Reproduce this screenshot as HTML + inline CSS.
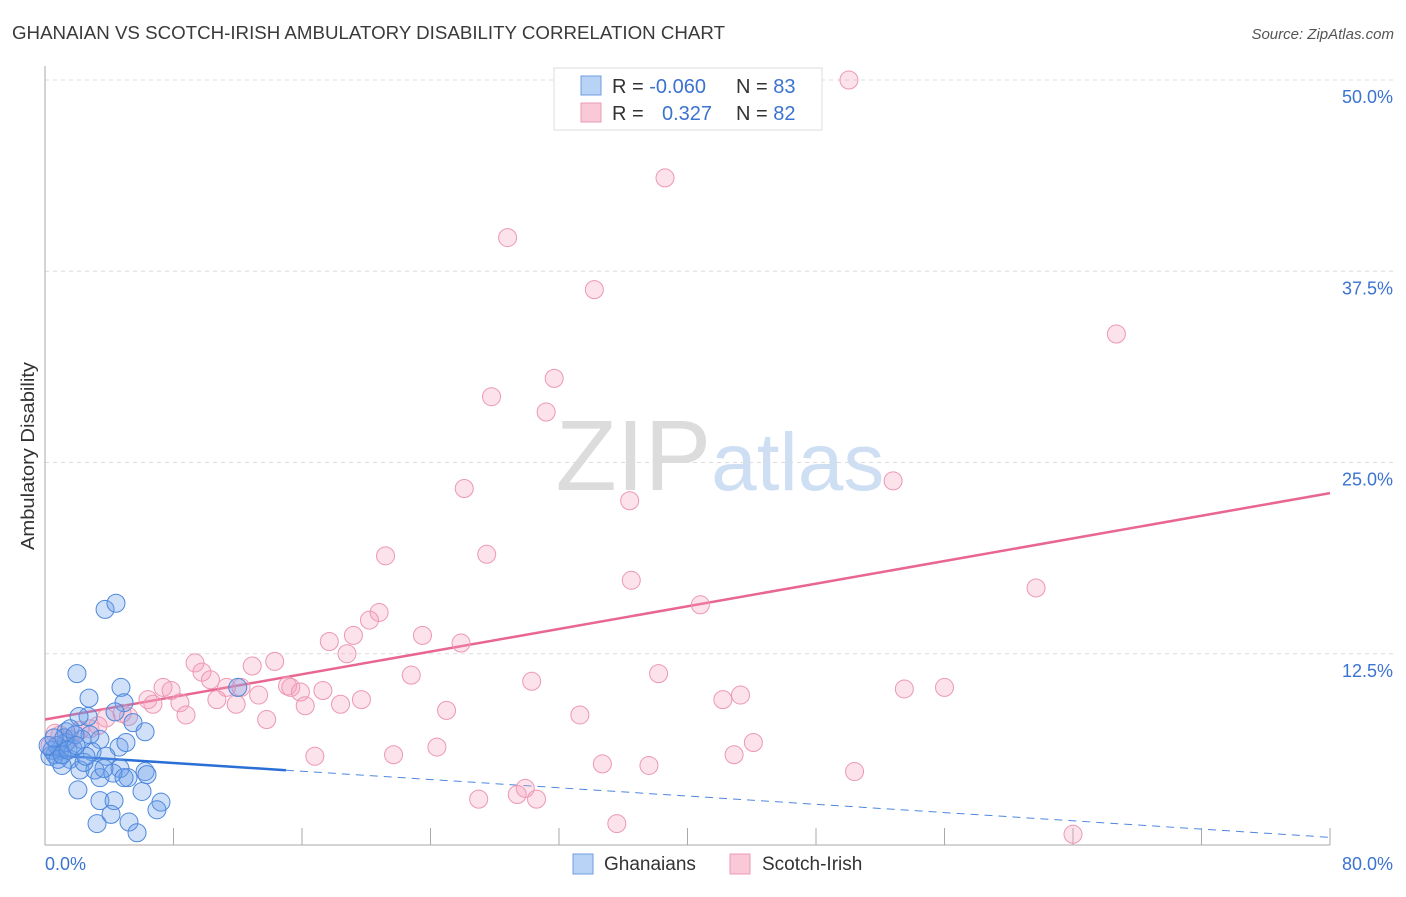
<!DOCTYPE html>
<html><head><meta charset="utf-8"><style>
body{margin:0;background:#fff;font-family:"Liberation Sans",sans-serif;}
svg text{font-family:"Liberation Sans",sans-serif;}
</style></head><body>
<svg id="chart" width="1406" height="892" xmlns="http://www.w3.org/2000/svg">
<text x="12" y="39" font-size="18" fill="#3a3a3a" textLength="713" lengthAdjust="spacingAndGlyphs">GHANAIAN VS SCOTCH-IRISH AMBULATORY DISABILITY CORRELATION CHART</text>
<text x="1394" y="39" font-size="15" fill="#555" text-anchor="end" font-style="italic">Source: ZipAtlas.com</text>
<text x="720" y="490" font-size="100" text-anchor="middle" fill="#dcdcdc" font-family="Liberation Serif">ZIP<tspan fill="#cfdff3" font-family="Liberation Sans" font-size="82">atlas</tspan></text>
<text transform="translate(34,456) rotate(-90)" font-size="18" fill="#333" text-anchor="middle" textLength="188" lengthAdjust="spacingAndGlyphs">Ambulatory Disability</text>
<g id="grid"></g><g id="axes"></g><g id="trend"></g><g id="points"></g>
<g>
<rect x="554" y="68" width="268" height="62" fill="#fff" stroke="#ddd"/>
<rect x="581" y="76" width="20" height="19" fill="#b8d3f5" stroke="#6e9ee0"/>
<rect x="581" y="103" width="20" height="19" fill="#f9c9d8" stroke="#ec9ab4"/>
<text x="612" y="93" font-size="20" fill="#333">R = <tspan fill="#3b73d0">-0.060</tspan><tspan x="736">N = </tspan><tspan fill="#3b73d0">83</tspan></text>
<text x="612" y="120" font-size="20" fill="#333">R = <tspan x="662" fill="#3b73d0">0.327</tspan><tspan x="736">N = </tspan><tspan fill="#3b73d0">82</tspan></text>
</g>
<g>
<rect x="573" y="854" width="20" height="20" fill="#b8d3f5" stroke="#6e9ee0"/>
<text x="604" y="870" font-size="19" fill="#333">Ghanaians</text>
<rect x="730" y="854" width="20" height="20" fill="#f9c9d8" stroke="#ec9ab4"/>
<text x="762" y="870" font-size="19" fill="#333">Scotch-Irish</text>
</g>
</svg>
<script>
const yTicks=[12.5,25,37.5,50];
const yTickLabels=["12.5%","25.0%","37.5%","50.0%"];
const xTickCount=10;
const blueX=[3.74,4.42,1.99,4.73,2.74,12.0,4.92,4.36,2.68,2.12,5.48,6.23,1.31,4.61,5.04,3.42,2.93,3.80,0.93,0.62,0.31,1.56,1.06,2.18,3.11,4.67,6.23,5.17,3.42,4.23,2.05,3.42,4.30,6.04,7.22,3.24,4.11,5.23,5.73,6.97,6.35,2.43,1.74,1.31,0.75,0.44,1.18,2.30,2.80,1.56,0.81,1.87,2.55,3.67,4.92,0.19,0.56,1.06,1.43,1.93];
const blueY=[15.4,15.8,11.2,10.3,9.6,10.3,9.3,8.7,8.4,8.4,8.0,7.4,7.4,6.4,6.7,6.9,6.1,5.8,6.2,5.9,5.8,5.6,5.2,4.9,4.9,5.0,4.8,4.4,4.4,4.7,3.6,2.9,2.9,3.5,2.8,1.4,2.0,1.5,0.8,2.3,4.6,5.4,6.3,6.7,6.5,6.2,7.0,6.9,7.2,7.6,5.6,7.2,5.8,5.0,4.4,6.5,7.0,5.9,6.2,6.5];
const pinkX=[50.05,38.6,28.8,34.2,66.7,31.7,27.8,31.2,26.1,36.4,52.8,21.2,27.5,36.5,61.7,40.8,20.8,20.2,19.2,17.7,23.5,25.9,18.8,9.34,14.3,12.9,9.77,22.8,38.2,30.3,10.3,7.35,7.85,11.3,12.2,15.1,15.3,15.9,17.3,13.3,6.41,6.72,8.4,10.7,11.9,16.2,18.4,19.7,53.5,56.0,43.3,42.2,8.78,13.8,25.0,33.3,4.8,5.2,3.8,3.3,44.1,24.4,21.7,16.8,42.9,34.7,37.6,50.4,29.9,29.4,27.0,30.6,35.6,64.0,0.93,1.56,2.18,0.31,2.8,0.62];
const pinkY=[50.0,43.6,39.7,36.3,33.4,30.5,29.3,28.3,23.3,22.5,23.8,18.9,19.0,17.3,16.8,15.7,15.2,14.7,13.7,13.3,13.7,13.2,12.5,11.9,12.0,11.7,11.3,11.1,11.2,10.7,10.8,10.3,10.1,10.3,10.3,10.4,10.3,10.0,10.1,9.8,9.5,9.2,9.3,9.5,9.2,9.1,9.2,9.5,10.2,10.3,9.8,9.5,8.5,8.2,8.8,8.5,8.6,8.4,8.3,7.8,6.7,6.4,5.9,5.8,5.9,5.3,5.2,4.8,3.7,3.3,3.0,3.0,1.4,0.7,7.2,6.9,7.5,6.5,7.6,7.3];
const blueTrend=[5.9,0.5];const blueSolidEnd=15;
const pinkTrend=[8.2,23.0];
const X0=45,X1=1330,Y0=845,Y1=80;
const xs=v=>X0+(v/80)*(X1-X0);
const ys=v=>Y0-(v/50)*(Y0-Y1);
const NS="http://www.w3.org/2000/svg";
function mk(tag,attrs,parent){const e=document.createElementNS(NS,tag);for(const k in attrs)e.setAttribute(k,attrs[k]);parent.appendChild(e);return e;}
const grid=document.getElementById('grid'),axes=document.getElementById('axes'),trend=document.getElementById('trend'),pts=document.getElementById('points');
yTicks.forEach((t,i)=>{
 const l=mk('line',{x1:X0,x2:1394,y1:ys(t),y2:ys(t),stroke:'#dcdcdc','stroke-dasharray':'4,4'},grid);
 
 
 const tx=mk('text',{x:1393,y:ys(t)+23,'font-size':18,fill:'#3b73d0','text-anchor':'end'},grid);
 tx.textContent=yTickLabels[i];
 
 
});
const ya=mk('line',{x1:X0,x2:X0,y1:66,y2:Y0,stroke:'#aaa'},axes);


const xa=mk('line',{x1:X0,x2:X1,y1:Y0,y2:Y0,stroke:'#aaa'},axes);


for(let i=1;i<=xTickCount;i++){const x=xs(i*8);const t=mk('line',{x1:x,x2:x,y1:Y0,y2:Y0-17,stroke:'#aaa'},axes);
 
 }
const xl0=mk('text',{x:45,y:870,'font-size':18,fill:'#3b73d0'},axes);xl0.textContent='0.0%';


const xl1=mk('text',{x:1393,y:870,'font-size':18,fill:'#3b73d0','text-anchor':'end'},axes);xl1.textContent='80.0%';


function drawPts(X,Y,fill,stroke,name){X.forEach((x,i)=>{const c=mk('circle',{cx:xs(x),cy:ys(Y[i]),r:9,fill:fill,stroke:stroke,'stroke-width':1},pts);
 
 });}
drawPts(pinkX,pinkY,'rgba(244,160,188,0.3)','#ec98b3','scotch-irish-point');
drawPts(blueX,blueY,'rgba(110,160,232,0.32)','#4d88dc','ghanaian-point');
const bAt=v=>blueTrend[0]+(blueTrend[1]-blueTrend[0])*v/80;
const pl=mk('line',{x1:xs(0),y1:ys(pinkTrend[0]),x2:xs(80),y2:ys(pinkTrend[1]),stroke:'#e8668f','stroke-width':2.5},trend);


const bl=mk('line',{x1:xs(0),y1:ys(bAt(0)),x2:xs(blueSolidEnd),y2:ys(bAt(blueSolidEnd)),stroke:'#2a6fd6','stroke-width':2.5},trend);


const bd=mk('line',{x1:xs(blueSolidEnd),y1:ys(bAt(blueSolidEnd)),x2:xs(80),y2:ys(bAt(80)),stroke:'#4d88dc','stroke-width':1,'stroke-dasharray':'8,6'},trend);


</script>
</body></html>
